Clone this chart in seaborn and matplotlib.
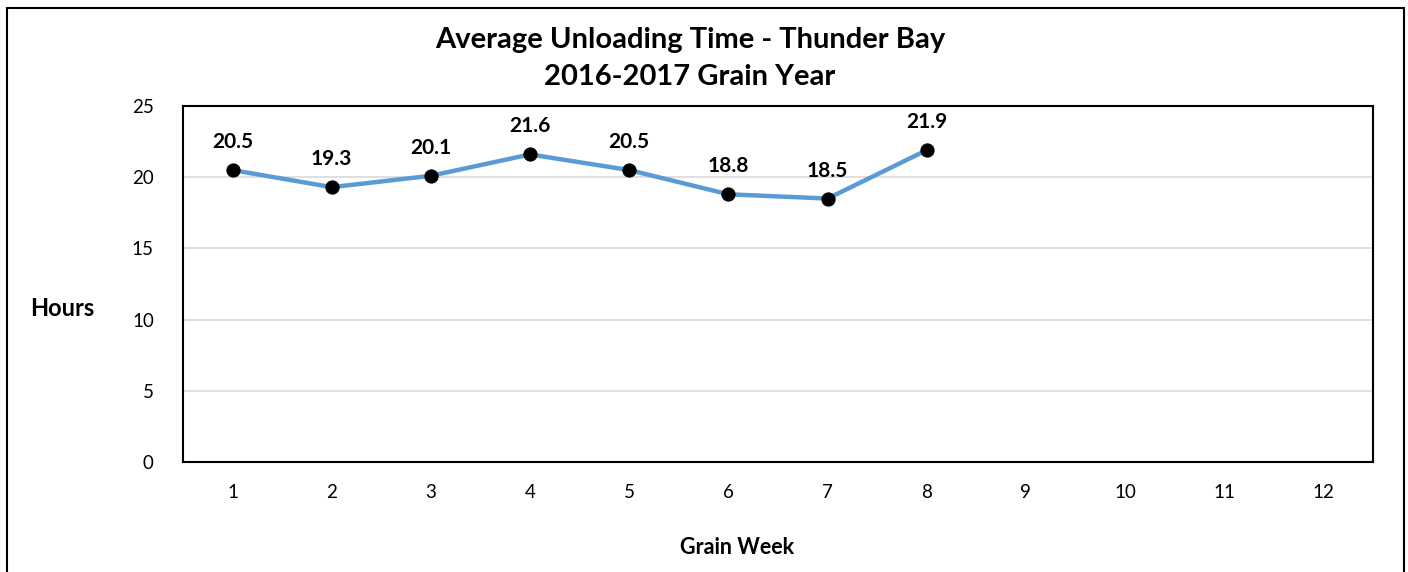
import matplotlib
matplotlib.use("Agg")
import matplotlib.pyplot as plt
import seaborn as sns
import pandas as pd
from matplotlib.patches import Rectangle

weeks = [1, 2, 3, 4, 5, 6, 7, 8, 9, 10, 11, 12]
hours = [20.5, 19.3, 20.1, 21.6, 20.5, 18.8, 18.5, 21.9]
yticks = [0, 5, 10, 15, 20, 25]
title_lines = ["Average Unloading Time - Thunder Bay", "2016-2017 Grain Year"]

sns.set_theme(style="white")
plt.rcParams['font.family'] = ['Lato', 'DejaVu Sans']
plt.rcParams['text.color'] = 'black'

fig = plt.figure(figsize=(14.08, 5.72), dpi=100)
ax = fig.add_axes([183/1408, 1-462/572, (1373-183)/1408, (462-106)/572])

df = pd.DataFrame({"week": weeks[:len(hours)], "hours": hours})
sns.lineplot(data=df, x="week", y="hours", ax=ax, color="#5B9BD5", linewidth=3.2,
             marker="o", markersize=9.5, markerfacecolor="black", markeredgecolor="black")

for x, y in zip(df["week"], df["hours"]):
    ax.annotate(f"{y}", (x, y), xytext=(0, 13), textcoords="offset points",
                ha="center", va="bottom", fontsize=15, fontweight="bold", color="black")

ax.set_xlim(0.5, 12.5)
ax.set_ylim(0, 25)
ax.set_xticks(weeks)
ax.set_xticklabels([str(w) for w in weeks], fontsize=13.5)
ax.set_yticks(yticks)
ax.set_yticklabels([str(t) for t in yticks], fontsize=13.5)
ax.tick_params(axis="both", length=0, colors="black")
ax.tick_params(axis="x", pad=16)
ax.tick_params(axis="y", pad=21)
ax.grid(axis="y", color="#D9D9D9", linewidth=1.2)
ax.set_axisbelow(True)
for s in ax.spines.values():
    s.set_visible(True)
    s.set_color("black")
    s.set_linewidth(1.5)

ax.set_xlabel("")
ax.set_ylabel("")
fig.text(62/1408, 1-308/572, "Hours", ha="center", va="center", fontsize=17, fontweight="bold")
fig.text(737/1408, 1-548/572, "Grain Week", ha="center", va="center", fontsize=15.5, fontweight="bold")
fig.text(690/1408, 1-40/572, title_lines[0], ha="center", va="center", fontsize=21, fontweight="bold")
fig.text(690/1408, 1-77/572, title_lines[1], ha="center", va="center", fontsize=21, fontweight="bold")

fig.patches.append(Rectangle((7/1408, -0.05), (1404-7)/1408, 1-8/572+0.05,
                             transform=fig.transFigure, fill=False, edgecolor="black",
                             linewidth=1.5))

fig.savefig("out.png", dpi=100)
